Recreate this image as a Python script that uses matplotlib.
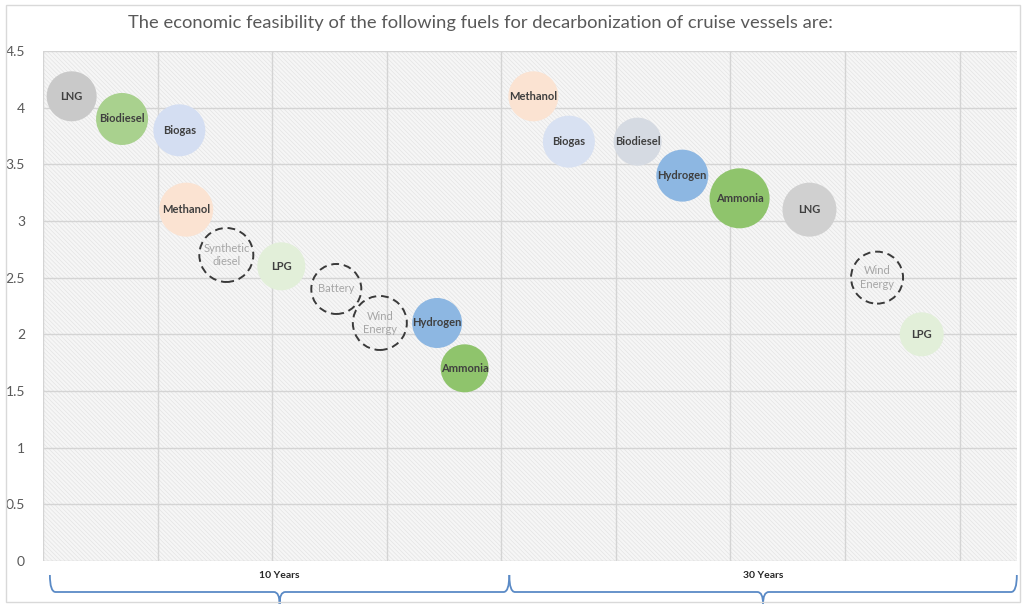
import matplotlib
matplotlib.use("Agg")
import matplotlib.pyplot as plt
from matplotlib.path import Path
from matplotlib.patches import PathPatch, Rectangle
from matplotlib.transforms import blended_transform_factory

plt.rcParams['font.family'] = ['Lato', 'DejaVu Sans']
plt.rcParams['hatch.color'] = '#e4e4e4'
plt.rcParams['hatch.linewidth'] = 0.5

title = "The economic feasibility of the following fuels for decarbonization of cruise vessels are:"

# fuels, 10 year horizon
fuels_10 = ["LNG", "Biodiesel", "Biogas", "Methanol", "Synthetic\ndiesel", "LPG",
            "Battery", "Wind\nEnergy", "Hydrogen", "Ammonia"]
x_10 = [0.25, 0.69, 1.19, 1.25, 1.60, 2.08, 2.56, 2.94, 3.44, 3.68]
y_10 = [4.1, 3.9, 3.8, 3.1, 2.7, 2.6, 2.4, 2.1, 2.1, 1.7]
size_10 = [25, 26, 26, 27, 27, 24, 25, 27, 25, 24]
color_10 = ["#c9c9c9", "#a9d18e", "#d4def2", "#fbe3d2", None, "#e2efd9",
            None, None, "#8db7e2", "#8fc46c"]

# fuels, 30 year horizon
fuels_30 = ["Methanol", "Biogas", "Biodiesel", "Hydrogen", "Ammonia", "LNG",
            "Wind\nEnergy", "LPG"]
x_30 = [4.28, 4.59, 5.19, 5.58, 6.08, 6.69, 7.28, 7.67]
y_30 = [4.1, 3.7, 3.7, 3.4, 3.2, 3.1, 2.5, 2.0]
size_30 = [25, 26, 24, 26, 30, 27, 26, 22]
color_30 = ["#fbe3d2", "#d8e1f2", "#d5dae2", "#8db7e2", "#8fc46c", "#d0d0d0",
            None, "#e2efd9"]

periods = ["10 Years", "30 Years"]
period_spans = [(0.06, 4.07), (4.07, 8.5)]

fig = plt.figure(figsize=(10.24, 6.04), dpi=100)
ax = fig.add_axes([0.042, 0.0712, 0.951, 0.8444])
ax.set_xlim(0, 8.5)
ax.set_ylim(0, 4.5)

# hatched plot area
ax.add_patch(Rectangle((0, 0), 1, 1, transform=ax.transAxes, facecolor="#f6f6f6",
                       hatch="\\\\\\\\\\\\\\\\", edgecolor="#e4e4e4", lw=0, zorder=0))
ax.set_yticks([i * 0.5 for i in range(10)])
ax.set_yticklabels(["0", "0.5", "1", "1.5", "2", "2.5", "3", "3.5", "4", "4.5"])
ax.set_xticks(range(0, 9))
ax.tick_params(axis="y", length=0, pad=13, labelsize=10, labelcolor="#595959")
ax.tick_params(axis="x", length=0, labelbottom=False)
ax.grid(True, color="#d4d4d4", lw=1)
ax.set_axisbelow(True)
for s in ax.spines.values():
    s.set_visible(False)


def draw_bubbles(names, xs, ys, sizes, colors):
    for name, x, y, r, c in zip(names, xs, ys, sizes, colors):
        s = (2 * r * 0.72) ** 2
        if c is None:
            ax.scatter(x, y, s=s, facecolors="none", edgecolors="#3a3a3a",
                       linewidths=1.4, linestyle=(0, (4, 2.5)), zorder=3)
            ax.text(x, y, name, ha="center", va="center", fontsize=8,
                    color="#a6a6a6", linespacing=1.3, zorder=4)
        else:
            ax.scatter(x, y, s=s, color=c, edgecolors="none", zorder=3)
            ax.text(x, y, name, ha="center", va="center", fontsize=8,
                    fontweight="bold", color="#3f3f3f", zorder=4)


draw_bubbles(fuels_10, x_10, y_10, size_10, color_10)
draw_bubbles(fuels_30, x_30, y_30, size_30, color_30)

fig.text(0.469, 0.962, title, ha="center", va="center", fontsize=13.2, color="#595959")

# braces under the plot
trans = blended_transform_factory(ax.transData, fig.transFigure)
y_top, y_line, y_bot = 1 - 575 / 604, 1 - 592 / 604, 0.0
dx = 0.05
for label, (xa, xb) in zip(periods, period_spans):
    xm = (xa + xb) / 2
    verts = [(xa, y_top), (xa, y_line), (xa + dx, y_line),
             (xm - dx, y_line), (xm, y_line), (xm, y_bot),
             (xm, y_bot), (xm, y_line), (xm + dx, y_line),
             (xb - dx, y_line), (xb, y_line), (xb, y_top)]
    codes = [Path.MOVETO, Path.CURVE3, Path.CURVE3,
             Path.LINETO, Path.CURVE3, Path.CURVE3,
             Path.MOVETO, Path.CURVE3, Path.CURVE3,
             Path.LINETO, Path.CURVE3, Path.CURVE3]
    fig.add_artist(PathPatch(Path(verts, codes), transform=trans, fill=False,
                             edgecolor="#5a8ac6", lw=1.3, clip_on=False))
    fig.text(xm, 1 - 576 / 604, label, transform=trans, ha="center", va="center",
             fontsize=7.5, fontweight="bold", color="#262626")

# outer chart border
fig.add_artist(Rectangle((0.006, 0.003), 0.99, 0.988, transform=fig.transFigure,
                         fill=False, edgecolor="#d9d9d9", lw=1))

fig.savefig("out.png", dpi=100)
